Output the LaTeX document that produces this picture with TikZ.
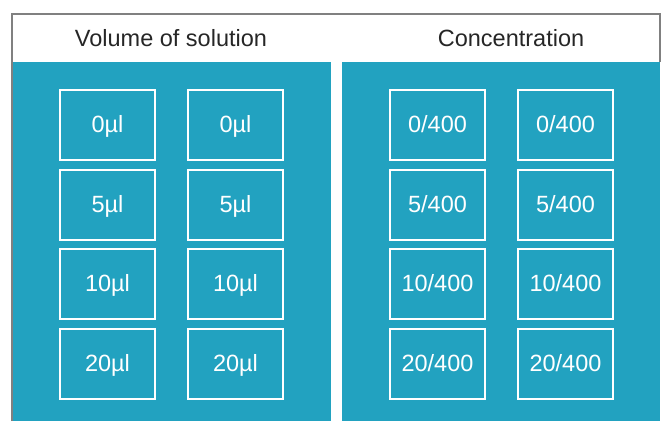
\documentclass[tikz,border=0pt]{standalone}
\usepackage{fontspec}
\setmainfont{Liberation Sans}
\definecolor{panelteal}{RGB}{34,162,192}
\definecolor{framegray}{RGB}{128,128,128}
\tikzset{
  well/.style={draw=white,line width=1.8pt,minimum width=95pt,minimum height=70pt,text=white,inner sep=0pt,text height=17pt,text depth=2pt},
  heading/.style={text=black!85},
}

\begin{document}
\begin{tikzpicture}[x=1pt,y=-1pt,font={\fontsize{23.5}{28}\selectfont}]
\useasboundingbox (0,0) rectangle (661,421);
\draw[framegray,line width=1.5pt] (12,421) -- (12,14) -- (660,14) -- (660,62);
\fill[panelteal] (12.5,62) rectangle (331,421);
\fill[panelteal] (342,62) rectangle (660,421);
\node[heading] (vol) at (171,38) {Volume of solution};
\node[heading] (conc) at (511,38) {Concentration};
\begin{scope}
		\foreach \amount [count=\row] in {0,5,10,20} {
				\foreach \col/\cx in {1/107.5,2/235.5} {
						\node[well] (vol-\row-\col) at (\cx,{125+79.67*(\row-1)}) {\amount µl};
				}
				\foreach \col/\cx in {1/437.5,2/565.5} {
						\node[well] (conc-\row-\col) at (\cx,{125+79.67*(\row-1)}) {\amount/400};
				}
		}
\end{scope}
\end{tikzpicture}
\end{document}
